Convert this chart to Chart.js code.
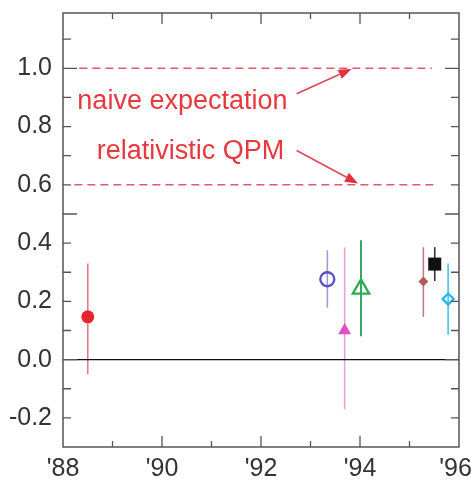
<!DOCTYPE html>
<html>
<head>
<meta charset="utf-8">
<script src="https://cdn.jsdelivr.net/npm/chart.js@4.4.1/dist/chart.umd.min.js"></script>
<style>
  html, body { margin: 0; padding: 0; background: #fff; }
  canvas { display: block; }
</style>
</head>
<body>
<canvas id="chart" width="475" height="484"></canvas>
<script>
const years  = [88.5, 93.34, 93.69, 94.02, 95.28, 95.51, 95.78];
const values = [0.147, 0.276, 0.100, 0.243, 0.268, 0.328, 0.208];
const upper  = [0.33, 0.375, 0.385, 0.41, 0.386, 0.386, 0.33];
const lower  = [-0.05, 0.178, -0.17, 0.08, 0.147, 0.27, 0.085];

// Marker style per measurement
const shapes  = ['circle', 'circle', 'triangle', 'triangle', 'rectRot', 'rect', 'rectRot'];
const sizes   = [6.5, 7, 7.5, 9.5, 5, 9.2, 5.5];
const filled  = [true, false, true, false, true, true, false];
const colors  = ['#e8262e', '#5a50c8', '#e050c4', '#2fae50', '#b85a5a', '#111111', '#22b6e6'];
const barColors = ['#e27a88', '#a09cdc', '#e8a2da', '#3aa85e', '#c47c8a', '#333333', '#46c2e4'];

// Reference levels and their horizontal extent
const naiveLevel = 1.0;
const naiveSpan = [88.33, 95.45];
const qpmLevel = 0.6;
const qpmSpan = [88.23, 95.55];
const zeroSpan = [88, 96];

// Axis ranges and labels
const xMin = 88, xMax = 96;
const yMin = -0.3, yMax = 1.19;
const xTickLabels = { 88: "'88", 90: "'90", 92: "'92", 94: "'94", 96: "'96 " };

// Annotations: [text, x, y(baseline)], arrows: [x0, y0, x1, y1]
const notes = [
  ['naive expectation', 88.29, 0.862],
  ['relativistic QPM', 88.68, 0.69]
];
const arrows = [
  [92.72, 0.913, 93.83, 0.998],
  [92.72, 0.718, 93.96, 0.605]
];

const red = '#e8383f';
const frameColor = '#555555';
const fontFamily = "'Liberation Sans', Arial, Helvetica, sans-serif";

const pointSets = years.map((yr, i) => ({
  type: 'scatter',
  data: [{ x: yr, y: values[i] }],
  pointStyle: shapes[i],
  pointRadius: sizes[i],
  pointBackgroundColor: filled[i] ? colors[i] : 'rgba(0,0,0,0)',
  pointBorderColor: colors[i],
  pointBorderWidth: filled[i] ? 0 : 2.3,
  order: 0
}));

const lineSet = (span, level, color, width, dash) => ({
  type: 'line',
  data: [{ x: span[0], y: level }, { x: span[1], y: level }],
  borderColor: color,
  borderWidth: width,
  borderDash: dash,
  pointRadius: 0,
  fill: false,
  order: 2
});

// Error bars, drawn under the markers
const errorBars = {
  id: 'errorBars',
  beforeDatasetsDraw(chart) {
    const { ctx, scales: { x, y } } = chart;
    ctx.save();
    years.forEach((yr, i) => {
      const px = x.getPixelForValue(yr);
      ctx.strokeStyle = barColors[i];
      ctx.lineWidth = i === 3 ? 2 : 1.6;
      ctx.beginPath();
      ctx.moveTo(px, y.getPixelForValue(upper[i]));
      ctx.lineTo(px, y.getPixelForValue(lower[i]));
      ctx.stroke();
    });
    ctx.restore();
  }
};

// Frame with inward ticks, red annotations and arrows
const frame = {
  id: 'frame',
  afterDraw(chart) {
    const { ctx, chartArea: a, scales: { x, y } } = chart;
    ctx.save();
    ctx.strokeStyle = frameColor;
    ctx.lineWidth = 1.5;
    ctx.strokeRect(a.left, a.top, a.right - a.left, a.bottom - a.top);

    ctx.lineWidth = 1.3;
    ctx.beginPath();
    for (let k = -2; k <= 11; k++) {
      const py = y.getPixelForValue(k / 10);
      const len = k % 5 === 0 ? 14 : 8;
      ctx.moveTo(a.left, py); ctx.lineTo(a.left + len, py);
      ctx.moveTo(a.right, py); ctx.lineTo(a.right - len, py);
    }
    for (let yr = xMin + 1; yr < xMax; yr++) {
      const px = x.getPixelForValue(yr);
      const len = yr % 2 === 0 ? 11 : 6;
      ctx.moveTo(px, a.bottom); ctx.lineTo(px, a.bottom - len);
      ctx.moveTo(px, a.top); ctx.lineTo(px, a.top + len);
    }
    ctx.stroke();

    ctx.fillStyle = red;
    ctx.font = '27px ' + fontFamily;
    ctx.textBaseline = 'alphabetic';
    notes.forEach(([t, nx, ny]) => {
      ctx.fillText(t, x.getPixelForValue(nx), y.getPixelForValue(ny));
    });

    ctx.strokeStyle = '#e04858';
    ctx.fillStyle = '#e2303c';
    ctx.lineWidth = 1.6;
    arrows.forEach(([x0, y0, x1, y1]) => {
      const sx = x.getPixelForValue(x0), sy = y.getPixelForValue(y0);
      const ex = x.getPixelForValue(x1), ey = y.getPixelForValue(y1);
      const ang = Math.atan2(ey - sy, ex - sx);
      const hl = 13, hw = 5;
      const bx = ex - hl * Math.cos(ang), by = ey - hl * Math.sin(ang);
      ctx.beginPath();
      ctx.moveTo(sx, sy); ctx.lineTo(bx, by);
      ctx.stroke();
      ctx.beginPath();
      ctx.moveTo(ex, ey);
      ctx.lineTo(bx + hw * Math.sin(ang), by - hw * Math.cos(ang));
      ctx.lineTo(bx - hw * Math.sin(ang), by + hw * Math.cos(ang));
      ctx.closePath();
      ctx.fill();
    });
    ctx.restore();
  }
};

new Chart(document.getElementById('chart'), {
  type: 'scatter',
  data: {
    datasets: [
      ...pointSets,
      lineSet(naiveSpan, naiveLevel, '#e05a6c', 1.5, [8, 5]),
      lineSet(qpmSpan, qpmLevel, '#e05a6c', 1.5, [8, 5]),
      lineSet(zeroSpan, 0, '#111111', 1.2, [])
    ]
  },
  options: {
    responsive: false,
    animation: false,
    layout: { padding: { top: 13, right: 16, left: 0, bottom: 0 } },
    plugins: { legend: { display: false }, tooltip: { enabled: false } },
    scales: {
      x: {
        type: 'linear',
        min: xMin,
        max: xMax,
        grid: { display: false, drawTicks: false },
        border: { display: false },
        afterFit: (s) => { s.height = 37; s.paddingLeft = 0; s.paddingRight = 0; },
        ticks: {
          stepSize: 1,
          autoSkip: false,
          maxRotation: 0,
          padding: 7,
          color: '#333333',
          font: { family: fontFamily, size: 25 },
          callback: (v) => xTickLabels[Math.round(v)] || ''
        }
      },
      y: {
        min: yMin,
        max: yMax,
        grid: { display: false, drawTicks: false },
        border: { display: false },
        afterFit: (s) => { s.width = 63; s.paddingTop = 0; s.paddingBottom = 0; },
        ticks: {
          stepSize: 0.1,
          autoSkip: false,
          padding: 11,
          color: '#333333',
          font: { family: fontFamily, size: 25 },
          callback: (v) => {
            const k = Math.round(v * 10);
            if (Math.abs(v * 10 - k) > 0.01 || k % 2 !== 0) return '';
            return (k / 10).toFixed(1);
          }
        }
      }
    }
  },
  plugins: [errorBars, frame]
});
</script>
</body>
</html>
